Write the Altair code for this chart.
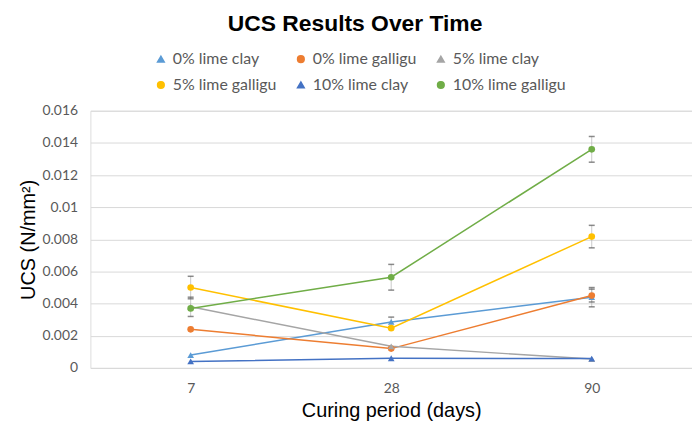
import altair as alt
import pandas as pd

days = ["7", "28", "90"]
series = ["0% lime clay", "0% lime galligu", "5% lime clay",
          "5% lime galligu", "10% lime clay", "10% lime galligu"]
colors = ["#5B9BD5", "#ED7D31", "#A5A5A5", "#FFC000", "#4472C4", "#70AD47"]
shapes = ["triangle-up", "circle", "triangle-up", "circle", "triangle-up", "circle"]

clay0 = [0.0008, 0.00286, 0.0044]
galligu0 = [0.0024, 0.0012, 0.0045]
clay5 = [0.0038, 0.00134, 0.00055]
galligu5 = [0.0050, 0.00247, 0.00817]
clay10 = [0.0004, 0.0006, 0.00058]
galligu10 = [0.0037, 0.00564, 0.0136]

err_clay0 = [0.0, 0.0003, 0.0006]
err_galligu0 = [0.0, 0.0, 0.0004]
err_clay5 = [0.0006, 0.0, 0.0]
err_galligu5 = [0.0007, 0.0, 0.0007]
err_clay10 = [0.0, 0.0, 0.0]
err_galligu10 = [0.0, 0.0008, 0.0008]

y_ticks = [0, 0.002, 0.004, 0.006, 0.008, 0.01, 0.012, 0.014, 0.016]

values = [clay0, galligu0, clay5, galligu5, clay10, galligu10]
errors = [err_clay0, err_galligu0, err_clay5, err_galligu5, err_clay10, err_galligu10]

rows = []
for s, vals, errs in zip(series, values, errors):
    for d, v, e in zip(days, vals, errs):
        rows.append({"series": s, "day": d, "value": v, "err": e,
                     "lo": v - e, "hi": v + e})
df = pd.DataFrame(rows)
df_err = df[df["err"] > 0]

x_enc = alt.X("day:O", sort=days,
              scale=alt.Scale(type="point", padding=0.5),
              axis=alt.Axis(title="Curing period (days)", labelAngle=0,
                            ticks=False, domain=False, grid=False,
                            labelFont="Lato", labelFontSize=14, labelColor="#595959",
                            labelPadding=14, titleFont="Liberation Sans",
                            titleFontSize=20, titleFontWeight="normal",
                            titleColor="#000000", titlePadding=5))
y_axis = alt.Axis(title="UCS (N/mm²)", values=y_ticks, format="~g",
                  ticks=False, domain=False, gridColor="#D9D9D9",
                  labelFont="Lato", labelFontSize=14, labelColor="#595959",
                  labelPadding=13, titleFont="Liberation Sans", titleFontSize=20,
                  titleFontWeight="normal", titleColor="#000000", titlePadding=4)
y_scale = alt.Scale(domain=[0, 0.016], nice=False)

leg = alt.Legend(title=None, orient="none", columns=3, direction="horizontal",
                 legendX=63, legendY=-60,
                 labelFont="Lato", labelFontSize=16,
                 labelColor="#595959", columnPadding=16,
                 rowPadding=10, symbolSize=45,
                 labelOffset=4, padding=0)
color_enc = alt.Color("series:N", scale=alt.Scale(domain=series, range=colors), legend=leg)
shape_enc = alt.Shape("series:N", scale=alt.Scale(domain=series, range=shapes), legend=leg)

base = alt.Chart(df)

err_rule = alt.Chart(df_err).mark_rule(color="#A6A6A6", strokeWidth=1, opacity=0.6).encode(
    x=x_enc, y=alt.Y("lo:Q", scale=y_scale, axis=y_axis), y2="hi:Q")
cap_lo = alt.Chart(df_err).mark_tick(color="#595959", size=6, thickness=1.5).encode(
    x=x_enc, y=alt.Y("lo:Q", scale=y_scale, axis=y_axis))
cap_hi = alt.Chart(df_err).mark_tick(color="#595959", size=6, thickness=1.5).encode(
    x=x_enc, y=alt.Y("hi:Q", scale=y_scale, axis=y_axis))

lines = base.mark_line(strokeWidth=1.5).encode(
    x=x_enc, y=alt.Y("value:Q", scale=y_scale, axis=y_axis),
    color=color_enc, detail="series:N")
points = base.mark_point(filled=True, size=45, opacity=1).encode(
    x=x_enc, y=alt.Y("value:Q", scale=y_scale, axis=y_axis),
    color=color_enc, shape=shape_enc)

chart = alt.layer(err_rule, cap_lo, cap_hi, lines, points).properties(
    width=606, height=259,
    autosize=alt.AutoSizeParams(type="none"),
    padding={"left": 83, "top": 102, "right": 0, "bottom": 54},
    title=alt.TitleParams("UCS Results Over Time", font="Liberation Sans",
                          fontSize=23, fontWeight="bold", color="#000000",
                          anchor="middle", frame="bounds", offset=15),
).configure_view(stroke=None).configure(background="white")

chart.save("out.html", embed_options={"renderer": "svg", "actions": False})
